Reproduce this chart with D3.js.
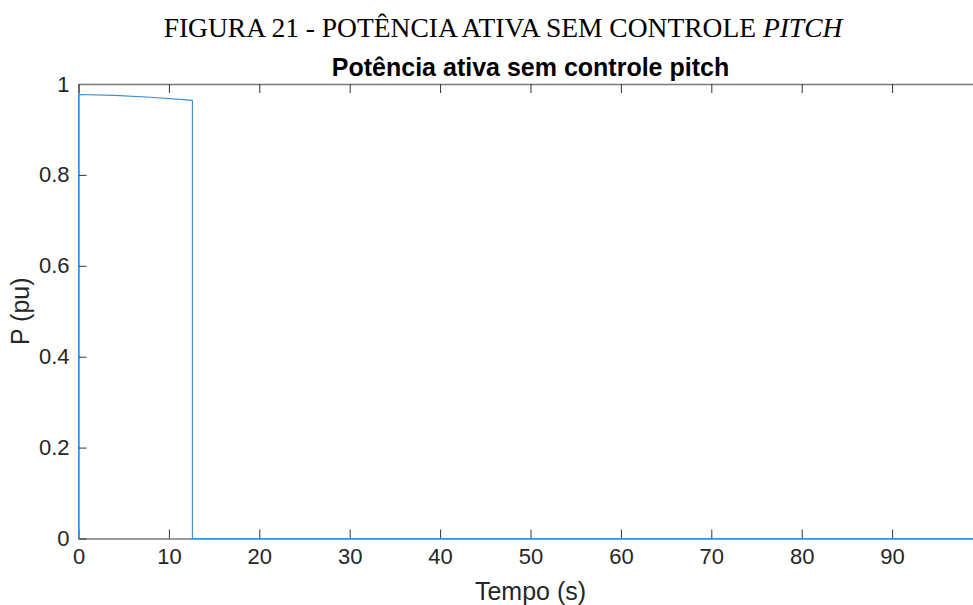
<!DOCTYPE html>
<html>
<head>
<meta charset="utf-8">
<script src="https://cdn.jsdelivr.net/npm/d3@7"></script>
<style>
  body { margin: 0; background: #fff; }
  svg { display: block; }
  .tick text { font-family: "Liberation Sans", Arial, sans-serif; font-size: 22px; fill: #262626; }
</style>
</head>
<body>
<div id="chart"></div>
<script>
// Data: time (s) and active power (pu)
const tempo = [0, 0, 4, 8, 12.6, 12.6, 30, 60, 100];
const potencia = [0, 0.977, 0.975, 0.971, 0.964, 0, 0, 0, 0];
const xTicks = [0, 10, 20, 30, 40, 50, 60, 70, 80, 90, 100];
const yTicks = [0, 0.2, 0.4, 0.6, 0.8, 1];

const W = 973, H = 605;
const margin = { top: 84, left: 78.5 };
const width = 904;
const height = 454.5;

const svg = d3.select("#chart").append("svg")
    .attr("width", W)
    .attr("height", H);

// caption above the figure
const cap = svg.append("text")
    .attr("x", 503)
    .attr("y", 37)
    .attr("text-anchor", "middle")
    .style("font-family", "'Liberation Serif', 'Times New Roman', serif")
    .style("font-size", "27.5px")
    .style("fill", "#000");
cap.append("tspan").text("FIGURA 21 - POTÊNCIA ATIVA SEM CONTROLE ");
cap.append("tspan").style("font-style", "italic").text("PITCH");

const g = svg.append("g")
    .attr("transform", `translate(${margin.left},${margin.top})`);

const x = d3.scaleLinear().domain([0, 100]).range([0, width]);
const y = d3.scaleLinear().domain([0, 1]).range([height, 0]);

// title
g.append("text")
    .attr("x", width / 2)
    .attr("y", -8)
    .attr("text-anchor", "middle")
    .style("font-family", "'Liberation Sans', Arial, sans-serif")
    .style("font-weight", "bold")
    .style("font-size", "25px")
    .style("fill", "#000")
    .text("Potência ativa sem controle pitch");

const fmt = d => d === 0 ? "0" : d3.format("~g")(d);

function styleAxis(sel) {
    sel.select(".domain").attr("stroke", "#7a7a7a").attr("stroke-width", 1.4);
    sel.selectAll(".tick line").attr("stroke", "#333").attr("stroke-width", 1);
}

// bottom axis
g.append("g")
    .attr("transform", `translate(0,${height})`)
    .call(d3.axisBottom(x).tickValues(xTicks.slice(0, 10)).tickSize(-9).tickSizeOuter(0).tickPadding(10).tickFormat(fmt))
    .call(styleAxis);

// left axis
g.append("g")
    .call(d3.axisLeft(y).tickValues(yTicks).tickSize(-8).tickSizeOuter(0).tickPadding(9).tickFormat(fmt))
    .call(styleAxis);

// top axis (box)
g.append("g")
    .call(d3.axisTop(x).tickValues(xTicks).tickSize(-9).tickSizeOuter(0).tickFormat(""))
    .call(styleAxis);

// right axis (box)
g.append("g")
    .attr("transform", `translate(${width},0)`)
    .call(d3.axisRight(y).tickValues(yTicks).tickSize(-8).tickSizeOuter(0).tickFormat(""))
    .call(styleAxis);

// the signal
const pts = tempo.map((t, i) => [t, potencia[i]]);
g.append("path")
    .datum(pts)
    .attr("fill", "none")
    .attr("stroke", "#3a8fd2")
    .attr("stroke-width", 1.1)
    .attr("d", d3.line().x(d => x(d[0])).y(d => y(d[1])));

// axis labels
g.append("text")
    .attr("x", width / 2)
    .attr("y", height + 61)
    .attr("text-anchor", "middle")
    .style("font-family", "'Liberation Sans', Arial, sans-serif")
    .style("font-size", "25px")
    .style("fill", "#262626")
    .text("Tempo (s)");

g.append("text")
    .attr("transform", `translate(${-50},${height / 2}) rotate(-90)`)
    .attr("text-anchor", "middle")
    .style("font-family", "'Liberation Sans', Arial, sans-serif")
    .style("font-size", "25px")
    .style("fill", "#262626")
    .text("P (pu)");
</script>
</body>
</html>
